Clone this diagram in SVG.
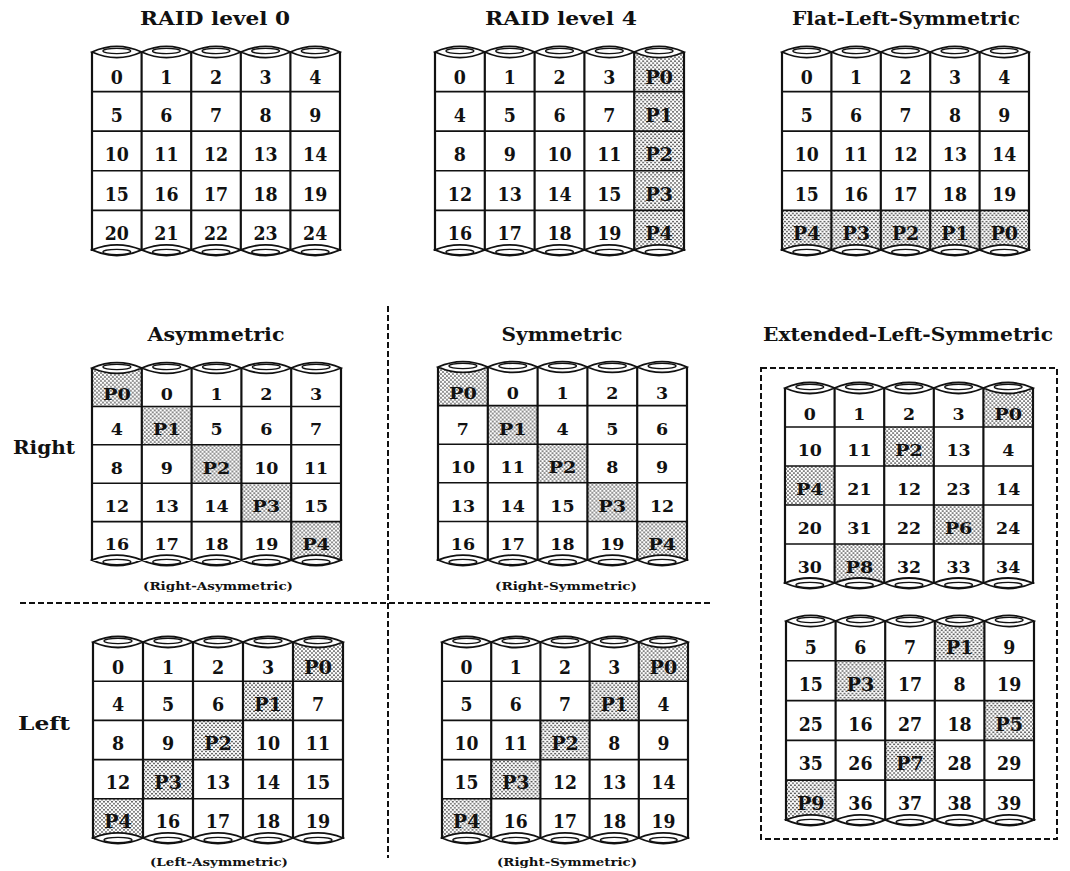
<svg xmlns="http://www.w3.org/2000/svg" xmlns:xlink="http://www.w3.org/1999/xlink" width="1070" height="871" viewBox="0 0 1070 871">
<style>
.n{font-family:"DejaVu Serif","Liberation Serif",serif;font-weight:bold;font-size:17.5px;text-anchor:middle;fill:#111}
.t{font-family:"DejaVu Serif","Liberation Serif",serif;font-weight:bold;font-size:18px;text-anchor:middle;fill:#111}
.c{font-family:"DejaVu Serif","Liberation Serif",serif;font-weight:bold;font-size:11px;text-anchor:middle;fill:#111}
.s{fill:url(#dots)}
.ln{fill:none;stroke:#111}
.lens{fill:#fff;stroke:#111;stroke-width:1.8}
.inner{fill:none;stroke:#111;stroke-width:1.3}
.dash{fill:none;stroke:#111;stroke-width:2;stroke-dasharray:6 3}
</style>
<defs>
<pattern id="dots" width="4" height="4" patternUnits="userSpaceOnUse">
<rect width="4" height="4" fill="#fff"/>
<circle cx="1" cy="1" r="0.85" fill="#222"/>
<circle cx="3" cy="3" r="0.85" fill="#222"/>
</pattern>
<g id="frame">
<path class="ln" stroke-width="2.2" d="M0 0V196M50 0V196M100 0V196M150 0V196M200 0V196M250 0V196"/>
<path class="ln" stroke-width="1.6" d="M0 39H250M0 78H250M0 117H250M0 156H250"/>
<path class="lens" d="M0 0Q25 -11 50 0Q25 11 0 0ZM50 0Q75 -11 100 0Q75 11 50 0ZM100 0Q125 -11 150 0Q125 11 100 0ZM150 0Q175 -11 200 0Q175 11 150 0ZM200 0Q225 -11 250 0Q225 11 200 0Z"/>
<path class="lens" d="M0 195Q25 185 50 195Q25 206 0 195ZM50 195Q75 185 100 195Q75 206 50 195ZM100 195Q125 185 150 195Q125 206 100 195ZM150 195Q175 185 200 195Q175 206 150 195ZM200 195Q225 185 250 195Q225 206 200 195Z"/>
<ellipse class="inner" cx="25" cy="-1" rx="14" ry="2.6"/><ellipse class="inner" cx="75" cy="-1" rx="14" ry="2.6"/><ellipse class="inner" cx="125" cy="-1" rx="14" ry="2.6"/><ellipse class="inner" cx="175" cy="-1" rx="14" ry="2.6"/><ellipse class="inner" cx="225" cy="-1" rx="14" ry="2.6"/>
<ellipse class="inner" cx="25" cy="197" rx="14" ry="2.6"/><ellipse class="inner" cx="75" cy="197" rx="14" ry="2.6"/><ellipse class="inner" cx="125" cy="197" rx="14" ry="2.6"/><ellipse class="inner" cx="175" cy="197" rx="14" ry="2.6"/><ellipse class="inner" cx="225" cy="197" rx="14" ry="2.6"/>
</g>
</defs>
<rect width="1070" height="871" fill="#fff"/>

<g id="titles">
<text class="t" x="215" y="25" textLength="150" lengthAdjust="spacingAndGlyphs">RAID level 0</text>
<text class="t" x="561" y="25" textLength="152" lengthAdjust="spacingAndGlyphs">RAID level 4</text>
<text class="t" x="906" y="25" textLength="228" lengthAdjust="spacingAndGlyphs">Flat-Left-Symmetric</text>
<text class="t" x="216" y="341" textLength="137" lengthAdjust="spacingAndGlyphs">Asymmetric</text>
<text class="t" x="562" y="341" textLength="121" lengthAdjust="spacingAndGlyphs">Symmetric</text>
<text class="t" x="908" y="341" textLength="290" lengthAdjust="spacingAndGlyphs">Extended-Left-Symmetric</text>
<text class="t" x="44" y="454" textLength="62" lengthAdjust="spacingAndGlyphs">Right</text>
<text class="t" x="44" y="730" textLength="52" lengthAdjust="spacingAndGlyphs">Left</text>
<text class="c" x="218" y="590" textLength="150" lengthAdjust="spacingAndGlyphs">(Right-Asymmetric)</text>
<text class="c" x="566" y="590" textLength="142" lengthAdjust="spacingAndGlyphs">(Right-Symmetric)</text>
<text class="c" x="219" y="866" textLength="138" lengthAdjust="spacingAndGlyphs">(Left-Asymmetric)</text>
<text class="c" x="567" y="866" textLength="140" lengthAdjust="spacingAndGlyphs">(Right-Symmetric)</text>
</g>

<g id="connectors">
<path class="dash" d="M20 603H712"/>
<path class="dash" d="M388 306V858" stroke-dasharray="5 2 1 2"/>
<rect class="dash" x="761" y="368" width="296" height="471"/>
</g>

<g id="raid0" transform="translate(92,52) scale(0.992,1.015)">
<use xlink:href="#frame"/>
<text class="n" x="25" y="32">0</text><text class="n" x="75" y="32">1</text><text class="n" x="125" y="32">2</text><text class="n" x="175" y="32">3</text><text class="n" x="225" y="32">4</text>
<text class="n" x="25" y="68.5">5</text><text class="n" x="75" y="68.5">6</text><text class="n" x="125" y="68.5">7</text><text class="n" x="175" y="68.5">8</text><text class="n" x="225" y="68.5">9</text>
<text class="n" x="25" y="107.5">10</text><text class="n" x="75" y="107.5">11</text><text class="n" x="125" y="107.5">12</text><text class="n" x="175" y="107.5">13</text><text class="n" x="225" y="107.5">14</text>
<text class="n" x="25" y="146.5">15</text><text class="n" x="75" y="146.5">16</text><text class="n" x="125" y="146.5">17</text><text class="n" x="175" y="146.5">18</text><text class="n" x="225" y="146.5">19</text>
<text class="n" x="25" y="185">20</text><text class="n" x="75" y="185">21</text><text class="n" x="125" y="185">22</text><text class="n" x="175" y="185">23</text><text class="n" x="225" y="185">24</text>
</g>

<g id="raid4" transform="translate(435,52) scale(0.996,1.015)">
<rect class="s" x="200" y="0" width="50" height="39"/><rect class="s" x="200" y="39" width="50" height="39"/><rect class="s" x="200" y="78" width="50" height="39"/><rect class="s" x="200" y="117" width="50" height="39"/><rect class="s" x="200" y="156" width="50" height="39"/>
<use xlink:href="#frame"/>
<text class="n" x="25" y="32">0</text><text class="n" x="75" y="32">1</text><text class="n" x="125" y="32">2</text><text class="n" x="175" y="32">3</text><text class="n" x="225" y="32" textLength="28" lengthAdjust="spacingAndGlyphs">P0</text>
<text class="n" x="25" y="68.5">4</text><text class="n" x="75" y="68.5">5</text><text class="n" x="125" y="68.5">6</text><text class="n" x="175" y="68.5">7</text><text class="n" x="225" y="68.5" textLength="28" lengthAdjust="spacingAndGlyphs">P1</text>
<text class="n" x="25" y="107.5">8</text><text class="n" x="75" y="107.5">9</text><text class="n" x="125" y="107.5">10</text><text class="n" x="175" y="107.5">11</text><text class="n" x="225" y="107.5" textLength="28" lengthAdjust="spacingAndGlyphs">P2</text>
<text class="n" x="25" y="146.5">12</text><text class="n" x="75" y="146.5">13</text><text class="n" x="125" y="146.5">14</text><text class="n" x="175" y="146.5">15</text><text class="n" x="225" y="146.5" textLength="28" lengthAdjust="spacingAndGlyphs">P3</text>
<text class="n" x="25" y="185">16</text><text class="n" x="75" y="185">17</text><text class="n" x="125" y="185">18</text><text class="n" x="175" y="185">19</text><text class="n" x="225" y="185" textLength="28" lengthAdjust="spacingAndGlyphs">P4</text>
</g>

<g id="flat-left-symmetric" transform="translate(782,52) scale(0.988,1.015)">
<rect class="s" x="0" y="156" width="250" height="39"/>
<use xlink:href="#frame"/>
<text class="n" x="25" y="32">0</text><text class="n" x="75" y="32">1</text><text class="n" x="125" y="32">2</text><text class="n" x="175" y="32">3</text><text class="n" x="225" y="32">4</text>
<text class="n" x="25" y="68.5">5</text><text class="n" x="75" y="68.5">6</text><text class="n" x="125" y="68.5">7</text><text class="n" x="175" y="68.5">8</text><text class="n" x="225" y="68.5">9</text>
<text class="n" x="25" y="107.5">10</text><text class="n" x="75" y="107.5">11</text><text class="n" x="125" y="107.5">12</text><text class="n" x="175" y="107.5">13</text><text class="n" x="225" y="107.5">14</text>
<text class="n" x="25" y="146.5">15</text><text class="n" x="75" y="146.5">16</text><text class="n" x="125" y="146.5">17</text><text class="n" x="175" y="146.5">18</text><text class="n" x="225" y="146.5">19</text>
<text class="n" x="25" y="185" textLength="28" lengthAdjust="spacingAndGlyphs">P4</text><text class="n" x="75" y="185" textLength="28" lengthAdjust="spacingAndGlyphs">P3</text><text class="n" x="125" y="185" textLength="28" lengthAdjust="spacingAndGlyphs">P2</text><text class="n" x="175" y="185" textLength="28" lengthAdjust="spacingAndGlyphs">P1</text><text class="n" x="225" y="185" textLength="28" lengthAdjust="spacingAndGlyphs">P0</text>
</g>

<g id="right-asymmetric" transform="translate(92,368) scale(0.996,0.985)">
<rect class="s" x="0" y="0" width="50" height="39"/><rect class="s" x="50" y="39" width="50" height="39"/><rect class="s" x="100" y="78" width="50" height="39"/><rect class="s" x="150" y="117" width="50" height="39"/><rect class="s" x="200" y="156" width="50" height="39"/>
<use xlink:href="#frame"/>
<text class="n" x="25" y="32" textLength="28" lengthAdjust="spacingAndGlyphs">P0</text><text class="n" x="75" y="32">0</text><text class="n" x="125" y="32">1</text><text class="n" x="175" y="32">2</text><text class="n" x="225" y="32">3</text>
<text class="n" x="25" y="68.5">4</text><text class="n" x="75" y="68.5" textLength="28" lengthAdjust="spacingAndGlyphs">P1</text><text class="n" x="125" y="68.5">5</text><text class="n" x="175" y="68.5">6</text><text class="n" x="225" y="68.5">7</text>
<text class="n" x="25" y="107.5">8</text><text class="n" x="75" y="107.5">9</text><text class="n" x="125" y="107.5" textLength="28" lengthAdjust="spacingAndGlyphs">P2</text><text class="n" x="175" y="107.5">10</text><text class="n" x="225" y="107.5">11</text>
<text class="n" x="25" y="146.5">12</text><text class="n" x="75" y="146.5">13</text><text class="n" x="125" y="146.5">14</text><text class="n" x="175" y="146.5" textLength="28" lengthAdjust="spacingAndGlyphs">P3</text><text class="n" x="225" y="146.5">15</text>
<text class="n" x="25" y="185">16</text><text class="n" x="75" y="185">17</text><text class="n" x="125" y="185">18</text><text class="n" x="175" y="185">19</text><text class="n" x="225" y="185" textLength="28" lengthAdjust="spacingAndGlyphs">P4</text>
</g>

<g id="right-symmetric" transform="translate(438,367) scale(0.996,0.99)">
<rect class="s" x="0" y="0" width="50" height="39"/><rect class="s" x="50" y="39" width="50" height="39"/><rect class="s" x="100" y="78" width="50" height="39"/><rect class="s" x="150" y="117" width="50" height="39"/><rect class="s" x="200" y="156" width="50" height="39"/>
<use xlink:href="#frame"/>
<text class="n" x="25" y="32" textLength="28" lengthAdjust="spacingAndGlyphs">P0</text><text class="n" x="75" y="32">0</text><text class="n" x="125" y="32">1</text><text class="n" x="175" y="32">2</text><text class="n" x="225" y="32">3</text>
<text class="n" x="25" y="68.5">7</text><text class="n" x="75" y="68.5" textLength="28" lengthAdjust="spacingAndGlyphs">P1</text><text class="n" x="125" y="68.5">4</text><text class="n" x="175" y="68.5">5</text><text class="n" x="225" y="68.5">6</text>
<text class="n" x="25" y="107.5">10</text><text class="n" x="75" y="107.5">11</text><text class="n" x="125" y="107.5" textLength="28" lengthAdjust="spacingAndGlyphs">P2</text><text class="n" x="175" y="107.5">8</text><text class="n" x="225" y="107.5">9</text>
<text class="n" x="25" y="146.5">13</text><text class="n" x="75" y="146.5">14</text><text class="n" x="125" y="146.5">15</text><text class="n" x="175" y="146.5" textLength="28" lengthAdjust="spacingAndGlyphs">P3</text><text class="n" x="225" y="146.5">12</text>
<text class="n" x="25" y="185">16</text><text class="n" x="75" y="185">17</text><text class="n" x="125" y="185">18</text><text class="n" x="175" y="185">19</text><text class="n" x="225" y="185" textLength="28" lengthAdjust="spacingAndGlyphs">P4</text>
</g>

<g id="extended-left-symmetric-1" transform="translate(785,388) scale(0.992,1)">
<rect class="s" x="200" y="0" width="50" height="39"/><rect class="s" x="100" y="39" width="50" height="39"/><rect class="s" x="0" y="78" width="50" height="39"/><rect class="s" x="150" y="117" width="50" height="39"/><rect class="s" x="50" y="156" width="50" height="39"/>
<use xlink:href="#frame"/>
<text class="n" x="25" y="32">0</text><text class="n" x="75" y="32">1</text><text class="n" x="125" y="32">2</text><text class="n" x="175" y="32">3</text><text class="n" x="225" y="32" textLength="28" lengthAdjust="spacingAndGlyphs">P0</text>
<text class="n" x="25" y="68.5">10</text><text class="n" x="75" y="68.5">11</text><text class="n" x="125" y="68.5" textLength="28" lengthAdjust="spacingAndGlyphs">P2</text><text class="n" x="175" y="68.5">13</text><text class="n" x="225" y="68.5">4</text>
<text class="n" x="25" y="107.5" textLength="28" lengthAdjust="spacingAndGlyphs">P4</text><text class="n" x="75" y="107.5">21</text><text class="n" x="125" y="107.5">12</text><text class="n" x="175" y="107.5">23</text><text class="n" x="225" y="107.5">14</text>
<text class="n" x="25" y="146.5">20</text><text class="n" x="75" y="146.5">31</text><text class="n" x="125" y="146.5">22</text><text class="n" x="175" y="146.5" textLength="28" lengthAdjust="spacingAndGlyphs">P6</text><text class="n" x="225" y="146.5">24</text>
<text class="n" x="25" y="185">30</text><text class="n" x="75" y="185" textLength="28" lengthAdjust="spacingAndGlyphs">P8</text><text class="n" x="125" y="185">32</text><text class="n" x="175" y="185">33</text><text class="n" x="225" y="185">34</text>
</g>

<g id="extended-left-symmetric-2" transform="translate(786,621) scale(0.992,1.02)">
<rect class="s" x="150" y="0" width="50" height="39"/><rect class="s" x="50" y="39" width="50" height="39"/><rect class="s" x="200" y="78" width="50" height="39"/><rect class="s" x="100" y="117" width="50" height="39"/><rect class="s" x="0" y="156" width="50" height="39"/>
<use xlink:href="#frame"/>
<text class="n" x="25" y="32">5</text><text class="n" x="75" y="32">6</text><text class="n" x="125" y="32">7</text><text class="n" x="175" y="32" textLength="28" lengthAdjust="spacingAndGlyphs">P1</text><text class="n" x="225" y="32">9</text>
<text class="n" x="25" y="68.5">15</text><text class="n" x="75" y="68.5" textLength="28" lengthAdjust="spacingAndGlyphs">P3</text><text class="n" x="125" y="68.5">17</text><text class="n" x="175" y="68.5">8</text><text class="n" x="225" y="68.5">19</text>
<text class="n" x="25" y="107.5">25</text><text class="n" x="75" y="107.5">16</text><text class="n" x="125" y="107.5">27</text><text class="n" x="175" y="107.5">18</text><text class="n" x="225" y="107.5" textLength="28" lengthAdjust="spacingAndGlyphs">P5</text>
<text class="n" x="25" y="146.5">35</text><text class="n" x="75" y="146.5">26</text><text class="n" x="125" y="146.5" textLength="28" lengthAdjust="spacingAndGlyphs">P7</text><text class="n" x="175" y="146.5">28</text><text class="n" x="225" y="146.5">29</text>
<text class="n" x="25" y="185" textLength="28" lengthAdjust="spacingAndGlyphs">P9</text><text class="n" x="75" y="185">36</text><text class="n" x="125" y="185">37</text><text class="n" x="175" y="185">38</text><text class="n" x="225" y="185">39</text>
</g>

<g id="left-asymmetric" transform="translate(93,642) scale(1,1.005)">
<rect class="s" x="200" y="0" width="50" height="39"/><rect class="s" x="150" y="39" width="50" height="39"/><rect class="s" x="100" y="78" width="50" height="39"/><rect class="s" x="50" y="117" width="50" height="39"/><rect class="s" x="0" y="156" width="50" height="39"/>
<use xlink:href="#frame"/>
<text class="n" x="25" y="32">0</text><text class="n" x="75" y="32">1</text><text class="n" x="125" y="32">2</text><text class="n" x="175" y="32">3</text><text class="n" x="225" y="32" textLength="28" lengthAdjust="spacingAndGlyphs">P0</text>
<text class="n" x="25" y="68.5">4</text><text class="n" x="75" y="68.5">5</text><text class="n" x="125" y="68.5">6</text><text class="n" x="175" y="68.5" textLength="28" lengthAdjust="spacingAndGlyphs">P1</text><text class="n" x="225" y="68.5">7</text>
<text class="n" x="25" y="107.5">8</text><text class="n" x="75" y="107.5">9</text><text class="n" x="125" y="107.5" textLength="28" lengthAdjust="spacingAndGlyphs">P2</text><text class="n" x="175" y="107.5">10</text><text class="n" x="225" y="107.5">11</text>
<text class="n" x="25" y="146.5">12</text><text class="n" x="75" y="146.5" textLength="28" lengthAdjust="spacingAndGlyphs">P3</text><text class="n" x="125" y="146.5">13</text><text class="n" x="175" y="146.5">14</text><text class="n" x="225" y="146.5">15</text>
<text class="n" x="25" y="185" textLength="28" lengthAdjust="spacingAndGlyphs">P4</text><text class="n" x="75" y="185">16</text><text class="n" x="125" y="185">17</text><text class="n" x="175" y="185">18</text><text class="n" x="225" y="185">19</text>
</g>

<g id="left-symmetric" transform="translate(442,642) scale(0.984,1.005)">
<rect class="s" x="200" y="0" width="50" height="39"/><rect class="s" x="150" y="39" width="50" height="39"/><rect class="s" x="100" y="78" width="50" height="39"/><rect class="s" x="50" y="117" width="50" height="39"/><rect class="s" x="0" y="156" width="50" height="39"/>
<use xlink:href="#frame"/>
<text class="n" x="25" y="32">0</text><text class="n" x="75" y="32">1</text><text class="n" x="125" y="32">2</text><text class="n" x="175" y="32">3</text><text class="n" x="225" y="32" textLength="28" lengthAdjust="spacingAndGlyphs">P0</text>
<text class="n" x="25" y="68.5">5</text><text class="n" x="75" y="68.5">6</text><text class="n" x="125" y="68.5">7</text><text class="n" x="175" y="68.5" textLength="28" lengthAdjust="spacingAndGlyphs">P1</text><text class="n" x="225" y="68.5">4</text>
<text class="n" x="25" y="107.5">10</text><text class="n" x="75" y="107.5">11</text><text class="n" x="125" y="107.5" textLength="28" lengthAdjust="spacingAndGlyphs">P2</text><text class="n" x="175" y="107.5">8</text><text class="n" x="225" y="107.5">9</text>
<text class="n" x="25" y="146.5">15</text><text class="n" x="75" y="146.5" textLength="28" lengthAdjust="spacingAndGlyphs">P3</text><text class="n" x="125" y="146.5">12</text><text class="n" x="175" y="146.5">13</text><text class="n" x="225" y="146.5">14</text>
<text class="n" x="25" y="185" textLength="28" lengthAdjust="spacingAndGlyphs">P4</text><text class="n" x="75" y="185">16</text><text class="n" x="125" y="185">17</text><text class="n" x="175" y="185">18</text><text class="n" x="225" y="185">19</text>
</g>
</svg>
